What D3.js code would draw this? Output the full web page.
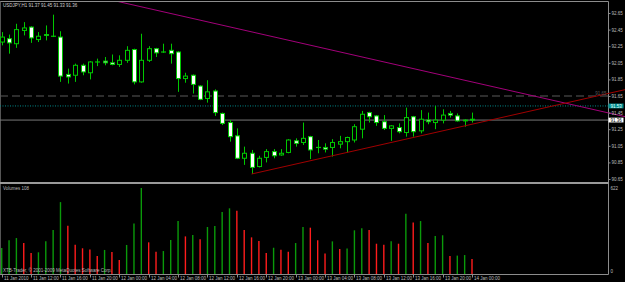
<!DOCTYPE html>
<html>
<head>
<meta charset="utf-8">
<script src="https://cdn.jsdelivr.net/npm/d3@7"></script>
<style>
  body { margin: 0; background: #000; }
  svg { display: block; }
  text { font-family: 'Liberation Sans', Arial, sans-serif; font-size: 4.5px; fill: #bcbcbc; }
</style>
</head>
<body>
<div id="chart"></div>
<script>
// USDJPY H1, 11 Jan 08:00 .. 14 Jan 00:00
const opens = [92.30, 92.34, 92.28, 92.44, 92.48, 92.33, 92.39, 92.37, 92.36, 91.91,
  91.90, 92.02, 91.93, 92.06, 92.07, 92.05, 92.03, 92.08, 92.21, 91.82,
  92.08, 92.22, 92.18, 92.20, 92.18, 91.86, 91.90, 91.77, 91.62, 91.71,
  91.44, 91.33, 91.17, 90.90, 90.96, 90.80, 90.91, 90.98, 90.94, 90.97,
  91.11, 91.09, 91.16, 91.03, 91.03, 91.03, 91.07, 91.10, 91.12, 91.25,
  91.45, 91.41, 91.34, 91.26, 91.27, 91.21, 91.40, 91.23, 91.36, 91.33,
  91.36, 91.44, 91.41, 91.35, 91.37];
const highs = [92.42, 92.39, 92.52, 92.54, 92.49, 92.42, 92.50, 92.63, 92.43, 91.98,
  92.04, 92.04, 92.07, 92.10, 92.12, 92.15, 92.14, 92.25, 92.22, 92.40,
  92.25, 92.23, 92.28, 92.28, 92.19, 91.93, 91.91, 91.78, 91.84, 91.73,
  91.45, 91.36, 91.26, 91.04, 91.00, 90.93, 91.01, 91.01, 91.01, 91.13,
  91.14, 91.33, 91.17, 91.12, 91.08, 91.13, 91.17, 91.16, 91.31, 91.47,
  91.46, 91.42, 91.42, 91.30, 91.32, 91.51, 91.41, 91.48, 91.45, 91.53,
  91.49, 91.47, 91.44, 91.37, 91.45];
const lows = [92.26, 92.16, 92.23, 92.38, 92.29, 92.30, 92.32, 92.36, 91.82, 91.80,
  91.82, 91.90, 91.85, 92.01, 92.02, 92.02, 92.00, 92.05, 91.79, 91.81,
  92.06, 92.12, 92.17, 92.04, 91.70, 91.81, 91.68, 91.60, 91.57, 91.41,
  91.30, 91.10, 90.89, 90.82, 90.71, 90.79, 90.85, 90.90, 90.93, 90.96,
  91.04, 91.06, 90.89, 90.96, 90.97, 90.92, 91.02, 90.97, 91.09, 91.14,
  91.33, 91.29, 91.24, 91.11, 91.20, 91.16, 91.16, 91.20, 91.31, 91.25,
  91.32, 91.39, 91.34, 91.28, 91.33];
const closes = [92.36, 92.29, 92.45, 92.47, 92.35, 92.37, 92.38, 92.37, 91.89, 91.88,
  92.02, 91.94, 92.06, 92.06, 92.05, 92.03, 92.08, 92.20, 91.82, 92.08,
  92.22, 92.17, 92.18, 92.16, 91.86, 91.89, 91.79, 91.61, 91.70, 91.45,
  91.32, 91.16, 90.90, 90.96, 90.79, 90.90, 90.98, 90.93, 90.96, 91.12,
  91.08, 91.14, 91.00, 91.03, 91.01, 91.09, 91.10, 91.15, 91.28, 91.43,
  91.40, 91.33, 91.26, 91.29, 91.22, 91.39, 91.22, 91.37, 91.34, 91.36,
  91.42, 91.42, 91.35, 91.36, 91.36];
const volumes = [188, 244, 260, 224, 152, 157, 236, 318, 520, 349,
  212, 186, 178, 130, 174, 159, 101, 210, 366, 622,
  229, 161, 166, 246, 383, 272, 282, 251, 340, 347,
  448, 475, 458, 318, 265, 239, 152, 190, 176, 161,
  224, 340, 335, 244, 149, 236, 181, 184, 316, 330,
  318, 219, 212, 236, 219, 436, 372, 383, 224, 275,
  280, 130, 133, 137, 108];

const priceTicks = [92.65, 92.45, 92.25, 92.05, 91.85, 91.65, 91.45, 91.25, 91.05, 90.85, 90.65];
const timeTickBars = [0, 4, 8, 12, 16, 20, 24, 28, 32, 36, 40, 44, 48, 52, 56, 60, 64];
const timeLabels = ['11 Jan 2010', '11 Jan 12:00', '11 Jan 16:00', '11 Jan 20:00',
  '12 Jan 00:00', '12 Jan 04:00', '12 Jan 08:00', '12 Jan 12:00', '12 Jan 16:00', '12 Jan 20:00',
  '13 Jan 00:00', '13 Jan 04:00', '13 Jan 08:00', '13 Jan 12:00', '13 Jan 16:00', '13 Jan 20:00',
  '14 Jan 00:00'];

// horizontal levels and trend lines [bar, price]
const levelDashed = 91.65;
const levelAsk = 91.53;
const levelBid = 91.36;
const trendRed = [[34, 90.71], [64, 91.31]];
const trendMagenta = [[16, 92.785], [60, 91.90]];
const volMax = 622;

const w = 625;
const h = 282;
const axisX = 608.5;
const mainTop = 1.5;
const mainBottom = 182;
const volBottom = 274.5;

const x = d3.scaleLinear().domain([0, 64]).range([1.7, 472]);
const y = d3.scaleLinear().domain([90.65, 92.65]).range([179, 13]);
const yVol = d3.scaleLinear().domain([0, volMax]).range([274, 188]);

const svg = d3.select('#chart')
  .append('svg')
  .attr('width', w)
  .attr('height', h);

svg.append('rect').attr('width', w).attr('height', h).attr('fill', '#000');

svg.append('defs').append('clipPath').attr('id', 'mainClip')
  .append('rect').attr('x', 0).attr('y', mainTop + 0.5).attr('width', w).attr('height', mainBottom - mainTop - 1);

// frame
const gray = '#8c8c8c';
svg.append('line').attr('x1', 0).attr('x2', axisX).attr('y1', mainTop).attr('y2', mainTop).attr('stroke', gray);
svg.append('line').attr('x1', 0.5).attr('x2', 0.5).attr('y1', mainTop).attr('y2', volBottom).attr('stroke', '#555');
svg.append('line').attr('x1', axisX).attr('x2', axisX).attr('y1', mainTop).attr('y2', volBottom).attr('stroke', gray);
svg.append('rect').attr('x', 0).attr('y', mainBottom).attr('width', axisX).attr('height', 2).attr('fill', '#9a9a9a');
svg.append('line').attr('x1', 0).attr('x2', axisX).attr('y1', volBottom).attr('y2', volBottom).attr('stroke', gray);

// levels
svg.append('line').attr('x1', 0).attr('x2', axisX)
  .attr('y1', y(levelDashed)).attr('y2', y(levelDashed))
  .attr('stroke', '#5a5a5a').attr('stroke-dasharray', '8,4');
svg.append('line').attr('x1', 0).attr('x2', axisX)
  .attr('y1', y(levelAsk)).attr('y2', y(levelAsk))
  .attr('stroke', '#008c8c').attr('stroke-dasharray', '1,1.5');
svg.append('line').attr('x1', 0).attr('x2', axisX)
  .attr('y1', y(levelBid)).attr('y2', y(levelBid))
  .attr('stroke', '#777');

// candles
const bars = opens.map((o, i) => ({ i: i, o: o, h: highs[i], l: lows[i], c: closes[i] }));
const green = '#00c800';
const g = svg.append('g');

g.selectAll('.wick')
  .data(bars)
  .enter()
  .append('line')
  .attr('x1', d => Math.round(x(d.i)) + 0.5)
  .attr('x2', d => Math.round(x(d.i)) + 0.5)
  .attr('y1', d => y(d.h))
  .attr('y2', d => y(d.l))
  .attr('stroke', green);

g.selectAll('.body')
  .data(bars.filter(d => d.o !== d.c))
  .enter()
  .append('rect')
  .attr('x', d => Math.round(x(d.i)) - 1.5)
  .attr('width', 4)
  .attr('y', d => y(Math.max(d.o, d.c)))
  .attr('height', d => Math.max(0.8, Math.abs(y(d.o) - y(d.c))))
  .attr('fill', d => d.c < d.o ? '#fff' : '#000')
  .attr('stroke', green);

g.selectAll('.doji')
  .data(bars.filter(d => d.o === d.c))
  .enter()
  .append('line')
  .attr('x1', d => Math.round(x(d.i)) - 2)
  .attr('x2', d => Math.round(x(d.i)) + 3)
  .attr('y1', d => y(d.o))
  .attr('y2', d => y(d.o))
  .attr('stroke', green)
  .attr('stroke-width', 1.2);

// trend lines, extended to the right edge
const ray = (pts, fromBar) => {
  const slope = (pts[1][1] - pts[0][1]) / (pts[1][0] - pts[0][0]);
  const toBar = x.invert(w);
  const p = b => [x(b), y(pts[0][1] + slope * (b - pts[0][0]))];
  return [p(fromBar), p(toBar)];
};
const tl = svg.append('g').attr('clip-path', 'url(#mainClip)');
tl.append('path')
  .attr('d', d3.line()(ray(trendMagenta, x.invert(100))))
  .attr('stroke', '#a3007a').attr('fill', 'none');
tl.append('path')
  .attr('d', d3.line()(ray(trendRed, trendRed[0][0])))
  .attr('stroke', '#a00000').attr('fill', 'none');

// volumes
svg.selectAll('.vol')
  .data(volumes)
  .enter()
  .append('line')
  .attr('x1', (d, i) => x(i))
  .attr('x2', (d, i) => x(i))
  .attr('y1', yVol(0))
  .attr('y2', d => yVol(d))
  .attr('stroke', (d, i) => (i === 0 || d > volumes[i - 1]) ? '#0a9a0a' : '#ff1c1c')
  .attr('stroke-width', 1.4);

// price axis
const yAxis = svg.append('g')
  .attr('transform', 'translate(' + axisX + ',0)')
  .call(d3.axisRight(y).tickValues(priceTicks).tickFormat(d3.format('.2f')).tickSize(2).tickPadding(1));
yAxis.select('.domain').remove();
yAxis.selectAll('line').attr('stroke', gray);
yAxis.selectAll('text').attr('fill', '#bcbcbc').style('font-size', '4.5px')
  .style('font-family', "'Liberation Sans', Arial, sans-serif");

// ask / bid boxes
svg.append('rect').attr('x', axisX).attr('y', y(levelAsk) - 2.4).attr('width', 15).attr('height', 4.8).attr('fill', '#008f8f');
svg.append('text').attr('x', axisX + 2).attr('y', y(levelAsk)).attr('dy', '0.35em').style('fill', '#e8ffff').text(d3.format('.2f')(levelAsk));
svg.append('rect').attr('x', axisX).attr('y', y(levelBid) - 2.4).attr('width', 15).attr('height', 4.8).attr('fill', '#fff');
svg.append('text').attr('x', axisX + 2).attr('y', y(levelBid)).attr('dy', '0.35em').style('fill', '#000').text(d3.format('.2f')(levelBid));
svg.append('text').attr('x', axisX - 2).attr('y', y(levelDashed) - 1.5).attr('text-anchor', 'end')
  .style('fill', '#5a5a5a').text(d3.format('.2f')(levelDashed));

// volume axis
svg.append('text').attr('x', axisX + 2).attr('y', yVol(volMax)).attr('dy', '0.35em').text(volMax);
svg.append('text').attr('x', axisX + 2).attr('y', yVol(0) - 3).attr('dy', '0.35em').text(0);

// time axis
svg.selectAll('.ttick')
  .data(timeTickBars)
  .enter()
  .append('line')
  .attr('x1', d => Math.round(x(d)) + 0.5)
  .attr('x2', d => Math.round(x(d)) + 0.5)
  .attr('y1', volBottom)
  .attr('y2', volBottom + 3)
  .attr('stroke', gray);
svg.selectAll('.tlabel')
  .data(timeTickBars)
  .enter()
  .append('text')
  .attr('x', d => Math.round(x(d)) + 2)
  .attr('y', 280)
  .text((d, i) => timeLabels[i]);

// captions
const last = bars[bars.length - 1];
svg.append('text').attr('x', 3).attr('y', 6.6).style('fill', '#d0d0d0')
  .text('USDJPY,H1 ' + [last.o, last.h, last.l, last.c].map(d3.format('.2f')).join(' '));
svg.append('text').attr('x', 3).attr('y', 190).text('Volumes ' + volumes[volumes.length - 1]);
svg.append('text').attr('x', 3).attr('y', 272).text('XTB-Trader, © 2001-2009 MetaQuotes Software Corp.');
</script>
</body>
</html>
